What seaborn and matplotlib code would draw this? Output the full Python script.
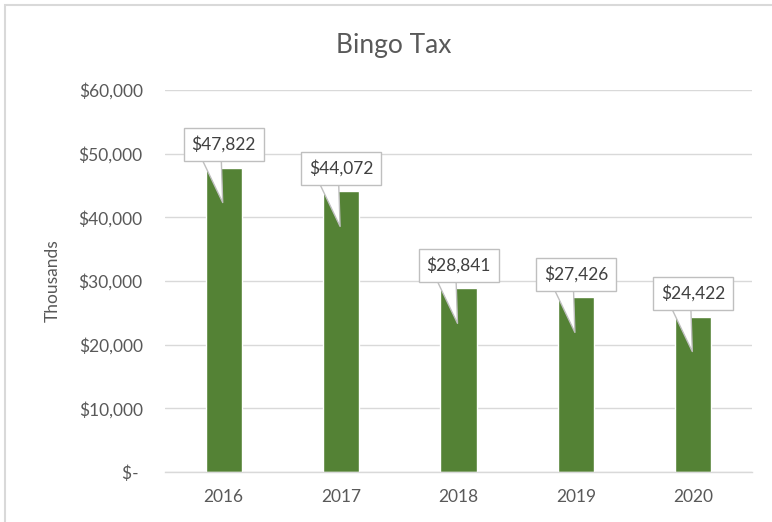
import matplotlib
matplotlib.use('Agg')
import matplotlib.pyplot as plt
import matplotlib.transforms as mtransforms
from matplotlib.patches import Rectangle
import pandas as pd
import seaborn as sns

# ============================================================
# Data
# ============================================================
years = ['2016', '2017', '2018', '2019', '2020']
bingo_tax = [47822, 44072, 28841, 27426, 24422]   # thousands of dollars
y_ticks = [0, 10000, 20000, 30000, 40000, 50000, 60000]

df = pd.DataFrame({'Year': years, 'Tax': bingo_tax})

BAR_GREEN = '#548235'
GRID_GRAY = '#d9d9d9'
TEXT_GRAY = '#595959'
BOX_EDGE = '#bfbfbf'

sns.set_theme(style='white')
plt.rcParams['font.family'] = ['Lato', 'DejaVu Sans']

fig = plt.figure(figsize=(7.72, 5.22), dpi=100)
ax = fig.add_axes([165 / 772, 50 / 522, 587 / 772, 382 / 522])

# ============================================================
# Bars
# ============================================================
sns.barplot(data=df, x='Year', y='Tax', color=BAR_GREEN, saturation=1,
            width=0.31, ax=ax, zorder=2)

ax.set_ylim(0, 60000)
ax.set_xlim(-0.5, len(years) - 0.5)
ax.set_yticks(y_ticks)
ax.set_yticklabels(['$-\u00a0'] + [f'${v:,.0f}' for v in y_ticks[1:]])
ax.yaxis.grid(True, color=GRID_GRAY, linewidth=1, zorder=0)
ax.set_axisbelow(True)
for side in ['top', 'right', 'left']:
    ax.spines[side].set_visible(False)
ax.spines['bottom'].set_color(GRID_GRAY)
ax.spines['bottom'].set_linewidth(1)
ax.tick_params(axis='both', length=0, labelsize=12.5, labelcolor=TEXT_GRAY)
ax.tick_params(axis='y', pad=16)
ax.tick_params(axis='x', pad=12)
ax.set_xlabel('')
ax.set_ylabel('Thousands', fontsize=12.5, color=TEXT_GRAY, labelpad=13)
fig.text(394 / 772, 1 - 45 / 522, 'Bingo Tax', ha='center', va='center',
         fontsize=19, color=TEXT_GRAY)

# ============================================================
# Callout labels
# ============================================================
label_tf = mtransforms.offset_copy(ax.transData, fig=fig, x=0, y=23, units='dots')
base_tf = mtransforms.offset_copy(ax.transData, fig=fig, x=-12, y=10, units='dots')
tip_tf = mtransforms.offset_copy(ax.transData, fig=fig, x=-1, y=-35, units='dots')

for i, v in enumerate(bingo_tax):
    ax.annotate('', xy=(i, v), xycoords=tip_tf, xytext=(i, v), textcoords=base_tf,
                arrowprops=dict(arrowstyle='wedge,tail_width=1.4', mutation_scale=10,
                                shrinkA=0, shrinkB=0, fc='white', ec=BOX_EDGE, lw=1),
                zorder=4, annotation_clip=False)
    ax.text(i, v, f'${v:,.0f}', transform=label_tf, ha='center', va='center',
            fontsize=12.5, color='#404040', zorder=5,
            bbox=dict(boxstyle='square,pad=0.45', fc='white', ec=BOX_EDGE, lw=1))

# chart area border (left and top edges visible)
fig.patches.append(Rectangle((5 / 772, -0.1), 1.2, 1.1 - 5 / 522, transform=fig.transFigure,
                             fill=False, edgecolor=GRID_GRAY, linewidth=1.5))

fig.savefig('out.png', dpi=100)
